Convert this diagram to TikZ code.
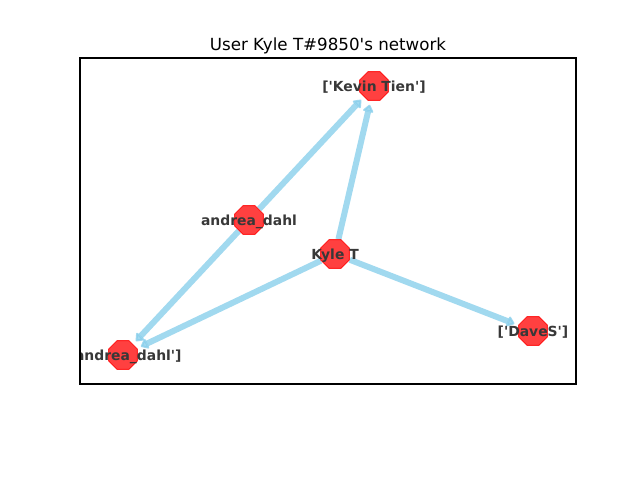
\documentclass[tikz,border=0pt]{standalone}
\usepackage{fontspec}
\setmainfont{DejaVu Sans}
\usetikzlibrary{arrows.meta,shapes.geometric}
\pgfdeclarelayer{edgelayer}
\pgfsetlayers{edgelayer,main}
\definecolor{skyblue}{RGB}{135,206,235}
\newcommand{\q}{\textquotesingle}
\tikzstyle{vert}=[regular polygon,regular polygon sides=8,minimum size=31pt,inner sep=0pt,fill=red,fill opacity=0.75,draw=red,draw opacity=0.8,line width=1pt]
\tikzstyle{lbl}=[font=\fontsize{13.9}{16}\selectfont\bfseries,text=black!78,inner sep=0pt,opacity=1,yshift=-1.5pt]
\tikzstyle{edg}=[color=skyblue,opacity=0.78,line width=6pt,shorten >=4pt,arrows={-Triangle[round,length=8pt,width=12pt]}]

\begin{document}
\begin{tikzpicture}[x=1pt,y=-1pt]
\useasboundingbox (0,0) rectangle (640,480);
\begin{scope}
\clip (80,58) rectangle (576,384);
\node[vert,label={[lbl]center:[\q Kevin Tien\q]}] (V) at (374,86) {};
\node[vert,label={[lbl]center:andrea\_dahl}] (A) at (249,220) {};
\node[vert,label={[lbl]center:Kyle T}] (K) at (335,254) {};
\node[vert,label={[lbl]center:[\q andrea\_dahl\q]}] (L) at (123,355) {};
\node[vert,label={[lbl]center:[\q DaveS\q]}] (D) at (533,331) {};
\end{scope}
\begin{pgfonlayer}{edgelayer}
\draw[edg] (K) -- (V);
\draw[edg] (K) -- (L);
\draw[edg] (K) -- (D);
\draw[edg] (A) -- (V);
\draw[edg] (A) -- (L);
\end{pgfonlayer}
\draw[line width=1.1pt] (80,58) rectangle (576,384);
\node[font=\fontsize{16.7}{20}\selectfont,anchor=base] (T) at (328,50) {User Kyle T\#9850\q s network};
\end{tikzpicture}
\end{document}
